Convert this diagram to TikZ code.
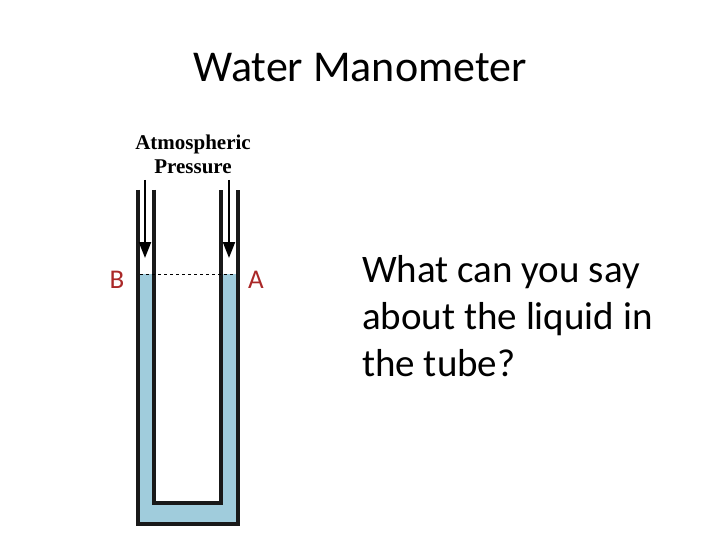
\documentclass[tikz,border=0pt]{standalone}
\usepackage{fontspec}
\setmainfont{Carlito}
\usetikzlibrary{arrows.meta}
\definecolor{water}{RGB}{160,204,220}
\definecolor{lab}{RGB}{170,40,40}
\begin{document}
\begin{tikzpicture}[x=1pt,y=-1pt,
  wall/.style={line width=4.5pt,black!90},
  arr/.style={line width=2pt,-{Triangle[width=12pt,length=16pt]}}]
\useasboundingbox (0,0) rectangle (720,540);
\fill[water] (136,274) rectangle (240,526);
\fill[white] (156,274) rectangle (219,505);
\draw[wall] (138,190) -- (138,524) -- (238,524) -- (238,190);
\draw[wall] (154,190) -- (154,503) -- (221,503) -- (221,190);
\draw[dashed,line width=0.8pt] (140,274) -- (236,274);
\coordinate (a1) at (145,180); \coordinate (a2) at (145,258);
\coordinate (b1) at (229,180); \coordinate (b2) at (229,258);
\draw[arr] (a1) -- (a2);
\draw[arr] (b1) -- (b2);
\node[font=\fontsize{44}{50}\selectfont] (t) at (360,68) {Water Manometer};
\node[font=\fontspec{Liberation Serif}\fontsize{21}{24}\selectfont\bfseries,align=center] (ap) at (193,154) {Atmospheric\\Pressure};
\node[text=lab,font=\fontsize{27}{28}\selectfont] (B) at (117,280) {B};
\node[text=lab,font=\fontsize{27}{28}\selectfont] (A) at (256,280) {A};
\node[anchor=north west,align=left,inner sep=0pt,font=\fontsize{39}{47}\selectfont] (q) at (362,255) {What can you say\\about the liquid in\\the tube?};
\end{tikzpicture}
\end{document}
